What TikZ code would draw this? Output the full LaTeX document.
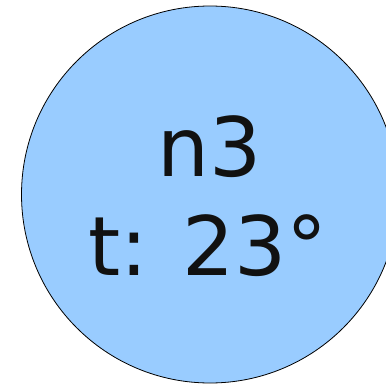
\documentclass[tikz,border=0pt]{standalone}
\usepackage{fontspec}
\setmainfont{DejaVu Sans}
\definecolor{nodefill}{HTML}{99CCFF}
\definecolor{ink}{HTML}{111111}
\begin{document}
\begin{tikzpicture}[x=1pt,y=-1pt,
  lbl/.style={anchor=base,inner sep=0pt,text=ink,font=\fontsize{82}{99}\selectfont}]
\useasboundingbox (0,0) rectangle (386,386);
\begin{scope}
\clip (0,0) rectangle (386,386);
\node[circle,draw=black,line width=0.8pt,fill=nodefill,minimum size=377pt,inner sep=0pt] (n3) at (210,194.5) {};
\end{scope}
\node[lbl] (l1) at (209.5,176) {n3};
\node[lbl] (l2) at (208,275) {t: 23°};
\end{tikzpicture}
\end{document}
